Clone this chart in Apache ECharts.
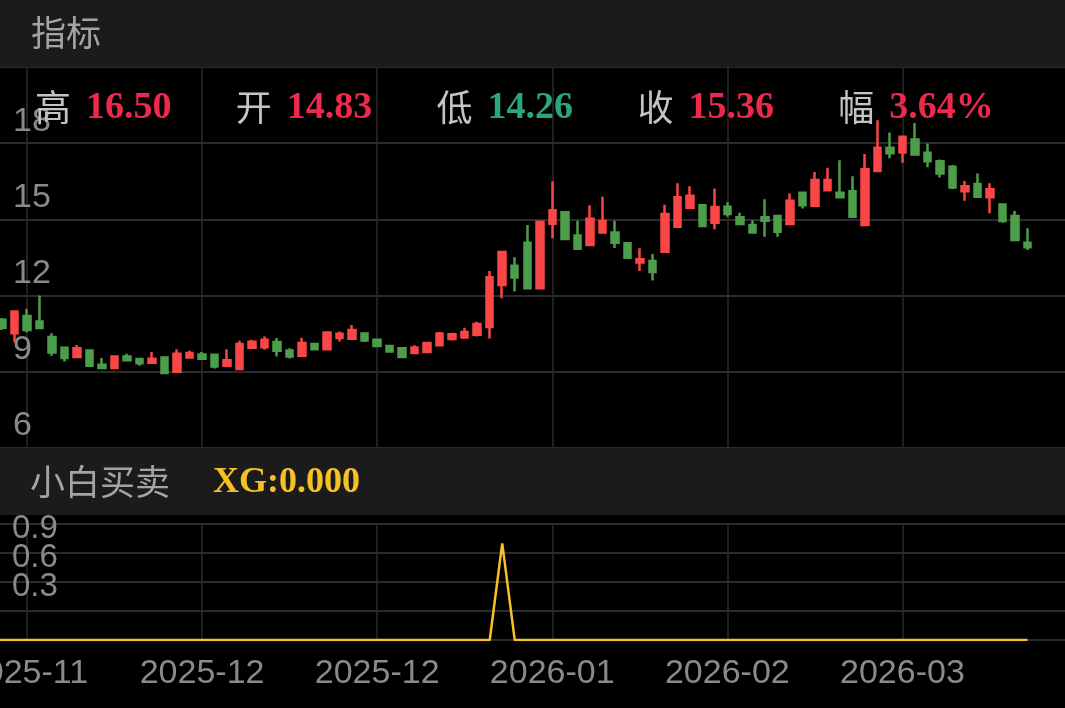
<!DOCTYPE html>
<html><head><meta charset="utf-8">
<script src="https://cdn.jsdelivr.net/npm/echarts@6/dist/echarts.min.js"></script>
<style>html,body{margin:0;padding:0;background:#000;overflow:hidden}#c{width:1065px;height:708px}</style>
</head><body><div id="c"></div>
<script>
// ---- data (first candle is the partially visible one at the left edge) ----
const open  = [11.05,10.52,11.20,10.98,10.37,9.95,9.58,9.84,9.28,9.15,
               9.60,9.50,9.36,9.56,9.00,9.56,9.68,9.67,9.24,9.11,
               9.95,9.97,10.17,9.84,9.63,10.09,9.89,10.33,10.30,10.51,
               10.26,10.02,9.93,9.74,9.78,10.05,10.29,10.35,10.46,10.76,
               12.42,13.18,14.08,12.29,14.83,15.28,14.37,13.99,14.48,14.48,
               14.06,13.30,13.36,13.73,14.71,15.46,15.56,14.87,15.50,15.08,
               14.78,15.08,15.13,14.82,16.05,15.54,16.15,16.05,16.11,14.78,
               16.91,17.82,17.63,18.15,17.62,17.29,17.07,16.11,16.39,15.87,
               15.59,15.13,14.08];
const close = [10.73,11.37,10.65,10.72,9.76,9.54,9.93,9.24,9.15,9.60,
               9.45,9.34,9.51,8.95,9.71,9.74,9.51,9.21,9.45,10.09,
               10.18,10.26,9.83,9.60,10.13,9.89,10.55,10.50,10.65,10.23,
               10.02,9.80,9.58,9.96,10.13,10.51,10.48,10.57,10.88,12.72,
               13.72,12.71,12.29,14.91,15.36,14.23,13.84,15.03,14.94,14.08,
               13.49,13.43,12.93,15.21,15.87,15.93,14.74,15.49,15.21,14.82,
               14.48,14.95,14.51,15.73,15.56,16.55,16.55,15.87,15.10,16.97,
               17.82,17.60,18.25,17.56,17.29,16.81,16.26,16.31,15.89,16.19,
               14.94,14.19,13.90];
const low   = [10.65,10.15,10.56,10.70,9.63,9.41,9.54,9.23,9.14,9.13,
               9.44,9.24,9.35,8.94,8.99,9.55,9.50,9.13,9.23,9.10,
               9.92,9.87,9.60,9.52,9.62,9.88,9.88,10.19,10.26,10.17,
               10.01,9.79,9.57,9.73,9.77,10.02,10.23,10.34,10.39,10.31,
               11.90,12.16,12.28,12.28,14.26,14.22,13.83,13.98,14.47,13.87,
               13.48,12.97,12.59,13.72,14.70,15.45,14.72,14.61,15.10,14.81,
               14.47,14.32,14.32,14.81,15.43,15.50,16.10,15.86,15.09,14.77,
               16.90,17.41,17.23,17.55,17.05,16.65,16.20,15.73,15.88,15.24,
               14.87,14.18,13.80];
const high  = [11.12,11.40,11.47,12.00,10.52,9.97,10.06,9.87,9.54,9.63,
               9.71,9.51,9.78,9.57,9.89,9.83,9.78,9.68,9.89,10.22,
               10.26,10.39,10.33,9.93,10.34,10.10,10.56,10.59,10.84,10.52,
               10.27,10.03,9.96,10.05,10.14,10.57,10.49,10.73,10.97,12.97,
               13.73,13.51,14.78,14.92,16.50,15.33,14.95,15.56,15.89,14.95,
               14.07,13.86,13.64,15.58,16.42,16.31,15.58,16.22,15.68,15.26,
               14.97,15.79,15.15,16.02,16.06,16.87,17.03,17.33,16.70,17.57,
               18.90,18.42,18.26,18.80,17.99,17.36,17.14,16.51,16.81,16.42,
               15.60,15.33,14.65];
// XG indicator (starts one slot earlier, off the left edge)
const xg = [0,0,0,0,0,0,0,0,0,0, 0,0,0,0,0,0,0,0,0,0,
            0,0,0,0,0,0,0,0,0,0, 0,0,0,0,0,0,0,0,0,0,
            0,1,0,0,0,0,0,0,0,0, 0,0,0,0,0,0,0,0,0,0,
            0,0,0,0,0,0,0,0,0,0, 0,0,0,0,0,0,0,0,0,0,
            0,0,0,0];
const tickLabels = ['2025-11','2025-12','2025-12','2026-01','2026-02','2026-03'];
const infoNames  = ['高','开','低','收','幅'];
const infoValues = ['16.50','14.83','14.26','15.36','3.64%'];
const infoUp     = [true, true, false, true, true];
const priceTicks = {min: 6, max: 21, step: 3};
const xgTicks    = {min: 0, max: 1.2, step: 0.3};

// ---- build ----
const SLOTS = 87, FIRST_TICK = 3, TICK_EVERY = 14;
const cats = [];
for (let i = 0; i < SLOTS; i++) cats.push('d' + i);
const candles = [['-','-','-','-']];
for (let i = 0; i < open.length; i++) candles.push([open[i], close[i], low[i], high[i]]);
const isTick = (i) => i >= FIRST_TICK && (i - FIRST_TICK) % TICK_EVERY === 0;

const RED = '#fa4646', GREEN = '#4d9e4a', GRID = '#2a2a30', AX = '#8a8a8a';
const SANS = '"Liberation Sans", Arial, Helvetica, sans-serif';
const CJK = '"Noto Sans CJK SC", "Noto Sans", sans-serif';
const SERIF = '"Liberation Serif", "Times New Roman", serif';

const graphic = [
  {type:'rect', z:100, shape:{x:0,y:0,width:1065,height:67}, style:{fill:'#1b1b1b'}},
  {type:'rect', z:100, shape:{x:0,y:448,width:1065,height:67}, style:{fill:'#1b1b1b'}},
  {type:'text', z:101, x:31, y:33, style:{text:'指标', fill:'#a4a4a4', font:'35px ' + CJK, textVerticalAlign:'middle', verticalAlign:'middle'}},
  {type:'text', z:101, x:30, y:482, style:{text:'小白买卖', fill:'#a4a4a4', font:'35px ' + CJK, textVerticalAlign:'middle', verticalAlign:'middle'}},
  {type:'text', z:101, x:213, y:483, style:{text:'XG:0.000', fill:'#f5c225', font:'bold 36px ' + SERIF, textVerticalAlign:'middle', verticalAlign:'middle'}}
];
infoNames.forEach((n, i) => {
  const x0 = 35 + i * 200.8;
  graphic.push({type:'text', z:101, x:x0, y:107, style:{text:n, fill:'#c4c4c4', font:'36px ' + CJK, textVerticalAlign:'middle', verticalAlign:'middle'}});
  graphic.push({type:'text', z:101, x:x0 + 51, y:108, style:{text:infoValues[i], fill: infoUp[i] ? '#ee2a4c' : '#2aa67a', font:'bold 38px ' + SERIF, textVerticalAlign:'middle', verticalAlign:'middle'}});
});

const chart = echarts.init(document.getElementById('c'));
chart.setOption({
  backgroundColor: '#000',
  animation: false,
  grid: [
    {left: -10.5, right: 0, top: 67, height: 381, containLabel:false, outerBoundsMode:'none'},
    {left: -10.5, right: 0, top: 524, height: 116, containLabel:false, outerBoundsMode:'none'}
  ],
  xAxis: [
    {type:'category', gridIndex:0, data:cats, boundaryGap:false,
     axisLine:{show:false}, axisTick:{show:false}, axisLabel:{show:false},
     splitLine:{show:true, interval:(i)=>isTick(i), lineStyle:{color:GRID, width:1.5}}},
    {type:'category', gridIndex:1, data:cats, boundaryGap:false,
     axisLine:{show:false}, axisTick:{show:false},
     axisLabel:{show:true, interval:(i)=>isTick(i), formatter:(v, i)=>tickLabels[(i - FIRST_TICK) / TICK_EVERY] || '',
       color:AX, fontSize:34, fontFamily:SANS, margin:17},
     splitLine:{show:true, interval:(i)=>isTick(i), lineStyle:{color:GRID, width:1.5}}}
  ],
  yAxis: [
    {type:'value', gridIndex:0, min:priceTicks.min, max:priceTicks.max, interval:priceTicks.step,
     axisLine:{show:false}, axisTick:{show:false},
     splitLine:{show:true, lineStyle:{color:GRID, width:2}},
     axisLabel:{inside:true, margin:23.5, verticalAlign:'bottom', lineHeight:44, showMaxLabel:false,
       color:AX, fontSize:34, fontFamily:SANS}},
    {type:'value', gridIndex:1, min:xgTicks.min, max:xgTicks.max, interval:xgTicks.step,
     axisLine:{show:false}, axisTick:{show:false},
     splitLine:{show:true, lineStyle:{color:GRID, width:2}},
     axisLabel:{inside:true, margin:22.5, verticalAlign:'bottom', lineHeight:48, showMaxLabel:false, showMinLabel:false,
       formatter:(v)=>v.toFixed(1), color:AX, fontSize:33, fontFamily:SANS}}
  ],
  series: [
    {type:'candlestick', xAxisIndex:0, yAxisIndex:0, data:candles, barWidth:7,
     itemStyle:{color:RED, color0:GREEN, borderColor:RED, borderColor0:GREEN, borderWidth:2.5}},
    {type:'line', xAxisIndex:1, yAxisIndex:1, data:xg, symbol:'none', showSymbol:false,
     lineStyle:{color:'#f5c225', width:2.5}}
  ],
  graphic: graphic
});
</script>
</body></html>
